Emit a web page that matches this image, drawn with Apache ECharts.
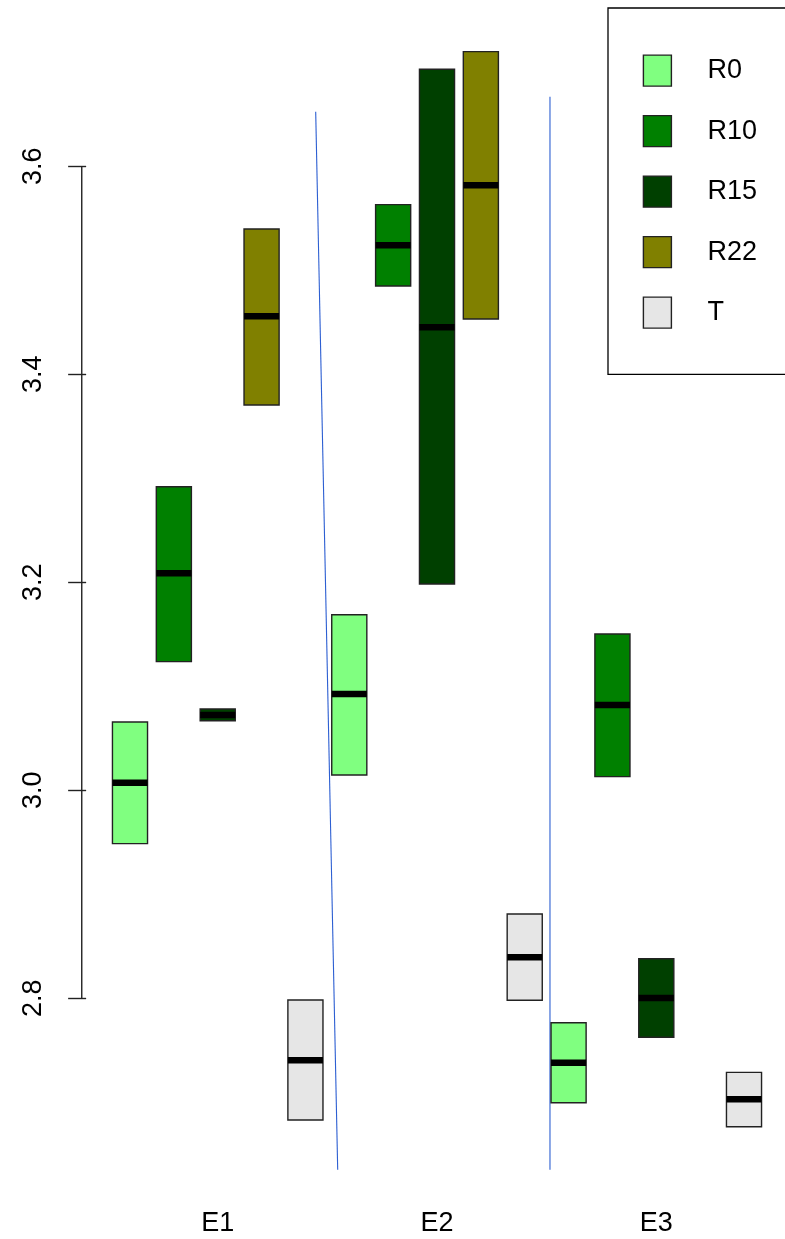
<!DOCTYPE html>
<html>
<head>
<meta charset="utf-8">
<title>Boxes by environment and treatment</title>
<script src="https://cdn.jsdelivr.net/npm/echarts@6/dist/echarts.min.js"></script>
<style>
  html, body { margin: 0; padding: 0; background: #ffffff; }
  #chart { width: 785px; height: 1239px; }
</style>
</head>
<body>
<div id="chart"></div>
<script>
// Environments along the x axis, treatments within each environment
const groups = ['E1', 'E2', 'E3'];
const treatments = ['R0', 'R10', 'R15', 'R22', 'T'];
const treatmentColors = ['#80FF80', '#008000', '#004000', '#808000', '#E6E6E6'];

// [lower hinge, median, upper hinge] per environment (null = no data)
const boxR0  = [[2.9487, 3.0073, 3.0657], [3.0147, 3.0926, 3.1688], [2.6996, 2.7381, 2.7765]];
const boxR10 = [[3.1237, 3.2087, 3.2919], [3.4849, 3.5240, 3.5631], [3.0131, 3.0820, 3.1503]];
const boxR15 = [[3.0669, 3.0724, 3.0782], [3.1984, 3.4452, 3.6933], [2.7625, 2.8003, 2.8381]];
const boxR22 = [[3.3705, 3.4558, 3.5397], [3.4532, 3.5817, 3.7102], null];
const boxT   = [[2.6830, 2.7404, 2.7984], [2.7981, 2.8394, 2.8811], [2.6765, 2.7029, 2.7288]];
const boxSets = [boxR0, boxR10, boxR15, boxR22, boxT];

// Y axis ticks and range
const yTicks = [2.8, 3.0, 3.2, 3.4, 3.6];
const yMin = 2.6352;
const yMax = 3.7516;

// Separator segments: [box position, value] end points
const dividerA = [[5.234, 3.6525], [5.736, 2.6352]];
const dividerB = [[10.576, 3.6669], [10.576, 2.6352]];

const perGroup = treatments.length;
const xMin = -0.1;
const xMax = 3 * perGroup + 1.1;
const boxHalf = 0.4;
const groupCenters = groups.map((g, gi) => gi * perGroup + (perGroup + 1) / 2);

const FONT = '"Liberation Sans", Arial, sans-serif';

function renderBox(params, api) {
  const pos = api.value(0);
  const low = api.value(1);
  const med = api.value(2);
  const high = api.value(3);
  const tl = api.coord([pos - boxHalf, high]);
  const br = api.coord([pos + boxHalf, low]);
  const ml = api.coord([pos - boxHalf, med]);
  const mr = api.coord([pos + boxHalf, med]);
  const color = api.visual('color');
  return {
    type: 'group',
    children: [
      {
        type: 'rect',
        shape: { x: tl[0], y: tl[1], width: br[0] - tl[0], height: br[1] - tl[1] },
        style: { fill: color, stroke: '#222222', lineWidth: 1.4 }
      },
      {
        type: 'line',
        shape: { x1: ml[0], y1: ml[1], x2: mr[0], y2: mr[1] },
        style: { stroke: '#000000', lineWidth: 6.5 }
      }
    ]
  };
}

const boxSeries = treatments.map((name, ti) => ({
  name: name,
  type: 'custom',
  renderItem: renderBox,
  itemStyle: { color: treatmentColors[ti], borderColor: '#222222', borderWidth: 1.4 },
  encode: { x: 0, y: [1, 2, 3] },
  data: boxSets[ti]
    .map((v, gi) => v ? [gi * perGroup + ti + 1, v[0], v[1], v[2]] : null)
    .filter(d => d !== null),
  silent: true,
  z: 3
}));

const chart = echarts.init(document.getElementById('chart'), null, { renderer: 'canvas' });

chart.setOption({
  animation: false,
  backgroundColor: '#ffffff',
  grid: {
    left: 81.75,
    top: 8.6,
    width: 710.5,
    height: 1161.1,
    containLabel: false,
    outerBoundsMode: 'none'
  },
  xAxis: {
    type: 'value',
    min: xMin,
    max: xMax,
    axisLine: { show: false },
    axisTick: { show: false },
    splitLine: { show: false },
    axisLabel: {
      customValues: groupCenters,
      formatter: v => groups[groupCenters.findIndex(c => Math.abs(c - v) < 1e-6)] || '',
      margin: 40,
      fontSize: 27,
      fontFamily: FONT,
      color: '#000000'
    }
  },
  yAxis: {
    type: 'value',
    min: yMin,
    max: yMax,
    axisLine: { show: false },
    splitLine: { show: false },
    axisTick: {
      show: true,
      customValues: yTicks,
      length: 18,
      lineStyle: { color: '#222222', width: 1.4 }
    },
    axisLabel: {
      customValues: yTicks,
      formatter: v => v.toFixed(1),
      rotate: 90,
      margin: 35,
      fontSize: 27,
      fontFamily: FONT,
      color: '#000000'
    }
  },
  legend: {
    orient: 'vertical',
    left: 608,
    top: 8,
    data: treatments,
    icon: 'rect',
    itemWidth: 28,
    itemHeight: 31,
    itemGap: 28.1,
    padding: [46.4, 60, 45.5, 34.7],
    borderColor: '#000000',
    borderWidth: 1.3,
    backgroundColor: '#ffffff',
    selectedMode: false,
    itemStyle: { borderColor: '#222222', borderWidth: 1.4 },
    textStyle: {
      fontSize: 27,
      fontFamily: FONT,
      color: '#000000',
      padding: [0, 0, 0, 31]
    }
  },
  series: [
    ...boxSeries,
    {
      name: 'yAxisLine',
      type: 'line',
      data: [[xMin, yTicks[0]], [xMin, yTicks[yTicks.length - 1]]],
      symbol: 'none',
      clip: false,
      silent: true,
      lineStyle: { color: '#222222', width: 1.4 },
      z: 2
    },
    {
      name: 'dividerA',
      type: 'line',
      data: dividerA,
      symbol: 'none',
      silent: true,
      lineStyle: { color: 'rgb(45,95,210)', width: 1.1 },
      z: 1
    },
    {
      name: 'dividerB',
      type: 'line',
      data: dividerB,
      symbol: 'none',
      silent: true,
      lineStyle: { color: 'rgb(45,95,210)', width: 1.1 },
      z: 1
    }
  ]
});
</script>
</body>
</html>
